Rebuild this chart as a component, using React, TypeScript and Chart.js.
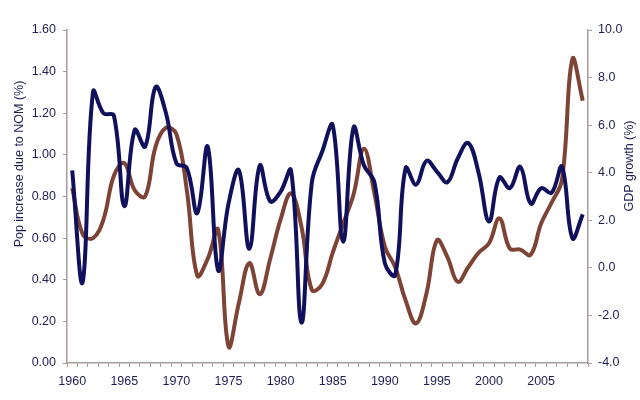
import { useEffect, useRef } from 'react';
import { Chart, registerables } from 'chart.js';

Chart.register(...registerables);

const years = [
    '1960', '1961', '1962', '1963', '1964', '1965', '1966', '1967', '1968', '1969',
    '1970', '1971', '1972', '1973', '1974', '1975', '1976', '1977', '1978', '1979',
    '1980', '1981', '1982', '1983', '1984', '1985', '1986', '1987', '1988', '1989',
    '1990', '1991', '1992', '1993', '1994', '1995', '1996', '1997', '1998', '1999',
    '2000', '2001', '2002', '2003', '2004', '2005', '2006', '2007', '2008', '2009',
];

// GDP growth (%), right axis
const gdpGrowth = [
    4.1, -0.6, 7.4, 6.5, 6.4, 2.6, 5.8, 5.1, 7.6, 6.5,
    4.4, 4.2, 2.3, 5.1, -0.1, 2.7, 4.1, 0.8, 4.3, 2.8,
    3.2, 4.1, -2.3, 3.6, 4.9, 6.0, 1.1, 5.9, 4.3, 3.6,
    0.2, -0.3, 4.2, 3.5, 4.5, 4.05, 3.6, 4.6, 5.25, 4.0,
    1.95, 3.8, 3.35, 4.25, 2.7, 3.35, 3.15, 4.25, 1.25, 2.25,
];

// Pop increase due to NOM (%), left axis
const popNom = [
    0.84, 0.62, 0.60, 0.69, 0.90, 0.96, 0.83, 0.80, 1.04, 1.13,
    1.10, 0.83, 0.42, 0.50, 0.64, 0.08, 0.29, 0.48, 0.33, 0.50,
    0.69, 0.815, 0.655, 0.35, 0.38, 0.53, 0.67, 0.81, 1.03, 0.815,
    0.56, 0.46, 0.30, 0.19, 0.335, 0.59, 0.51, 0.39, 0.46, 0.53,
    0.575, 0.695, 0.55, 0.545, 0.52, 0.67, 0.77, 0.88, 1.46, 1.26,
];

const leftTitle = 'Pop increase due to NOM (%)';
const rightTitle = 'GDP growth (%)';

const navy = '#10105c';
const brown = '#7d4436';
const axisGray = '#a69c9c';
const labelColor = '#1e1e55';
const fontFamily = '"Liberation Sans", Arial, sans-serif';

// both axis titles read bottom-to-top, so draw them by hand
const axisTitles = {
    id: 'axisTitles',
    afterDraw(chart: Chart) {
        const ctx = chart.ctx;
        ctx.save();
        ctx.fillStyle = labelColor;
        ctx.font = `12.5px ${fontFamily}`;
        ctx.textAlign = 'center';
        ctx.textBaseline = 'middle';
        ctx.translate(20, 164);
        ctx.rotate(-Math.PI / 2);
        ctx.fillText(leftTitle, 0, 0);
        ctx.restore();
        ctx.save();
        ctx.fillStyle = labelColor;
        ctx.font = `12.5px ${fontFamily}`;
        ctx.textAlign = 'center';
        ctx.textBaseline = 'middle';
        ctx.translate(630, 166);
        ctx.rotate(-Math.PI / 2);
        ctx.fillText(rightTitle, 0, 0);
        ctx.restore();
    },
};

export default function App() {
    const canvasRef = useRef<HTMLCanvasElement | null>(null);

    useEffect(() => {
        document.body.style.margin = '0';
        if (!canvasRef.current) {
            return;
        }
        const tickFont = { family: fontFamily, size: 12.5 };

        const chart = new Chart(canvasRef.current, {
            type: 'line',
            data: {
                labels: years,
                datasets: [
                    { label: rightTitle, data: gdpGrowth, yAxisID: 'yRight', borderColor: navy, borderWidth: 4, pointRadius: 0, tension: 0.4, fill: false },
                    { label: leftTitle, data: popNom, yAxisID: 'yLeft', borderColor: brown, borderWidth: 4, pointRadius: 0, tension: 0.4, fill: false },
                ],
            },
            options: {
                responsive: false,
                animation: false,
                layout: { padding: { top: 30, left: 0, right: 0, bottom: 0 } },
                plugins: {
                    legend: { display: false },
                    tooltip: { enabled: false },
                },
                scales: {
                    x: {
                        type: 'category',
                        offset: true,
                        grid: { offset: true, drawOnChartArea: false, drawTicks: true, tickLength: 4, color: axisGray },
                        border: { display: true, color: axisGray, width: 1.5 },
                        ticks: {
                            autoSkip: false,
                            maxRotation: 0,
                            padding: 7,
                            color: labelColor,
                            font: tickFont,
                            callback: (_v, i) => (Number(years[i]) % 5 === 0 ? years[i] : ''),
                        },
                        afterFit: (scale) => { scale.height = 37; },
                    },
                    yLeft: {
                        position: 'left',
                        min: 0,
                        max: 1.6,
                        grid: { drawOnChartArea: false, drawTicks: true, tickLength: 4, color: axisGray },
                        border: { display: true, color: axisGray, width: 1.5 },
                        ticks: {
                            stepSize: 0.2,
                            padding: 7,
                            color: labelColor,
                            font: tickFont,
                            callback: (v) => Number(v).toFixed(2),
                        },
                        afterFit: (scale) => { scale.width = 67; },
                    },
                    yRight: {
                        position: 'right',
                        min: -4,
                        max: 10,
                        grid: { drawOnChartArea: false, drawTicks: true, tickLength: 4, color: axisGray },
                        border: { display: true, color: axisGray, width: 1.5 },
                        ticks: {
                            stepSize: 2,
                            padding: 6,
                            color: labelColor,
                            font: tickFont,
                            callback: (v) => Number(v).toFixed(1),
                        },
                        afterFit: (scale) => { scale.width = 52; },
                    },
                },
            },
            plugins: [axisTitles],
        });
        return () => chart.destroy();
    }, []);

    return (
        <div style={{ width: '640px', height: '400px', background: '#fff' }}>
            <canvas ref={canvasRef} width={640} height={400} />
        </div>
    );
}
